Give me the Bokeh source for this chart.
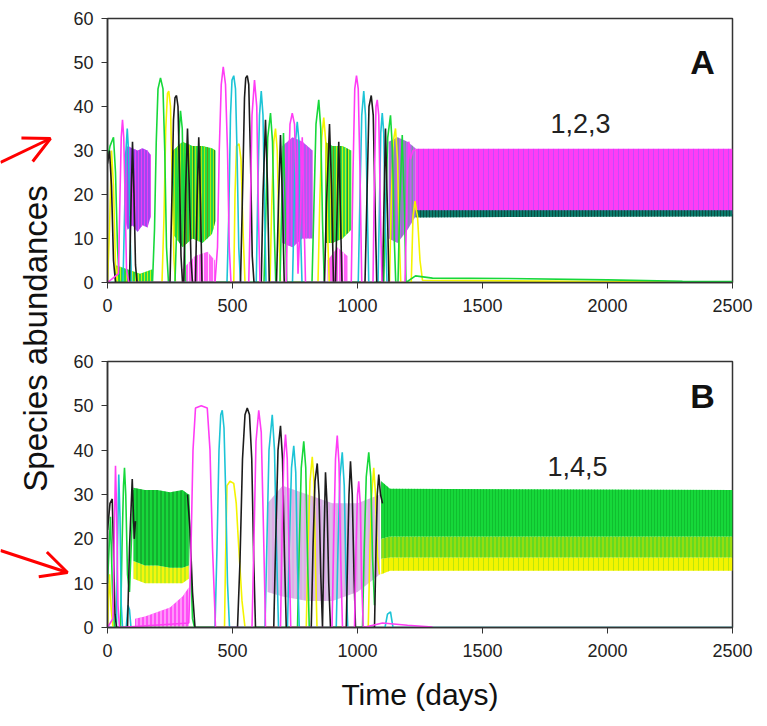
from math import nan
from bokeh.plotting import figure
from bokeh.layouts import row, column
from bokeh.models import Range1d, Arrow, OpenHead, Label, FixedTicker
from bokeh.embed import file_html
from bokeh.resources import INLINE

# ---------------- data ----------------
x_ticks = [0, 500, 1000, 1500, 2000, 2500]
y_ticks = [0, 10, 20, 30, 40, 50, 60]
panel_labels = ["A", "B"]
community_labels = ["1,2,3", "1,4,5"]

# Panel A: individual species traces (time in days, abundance)
A_mag_t = [0, 44, 50, 55, 60, 65, 70, 76, 85, 430, 440, 447, 455, 463, 472, 480, 487, 494, 565, 571, 578, 588, 597, 604, 610, 715, 722, 730, 739, 748, 756, 762, 772, 779, 786, 792, 975, 982, 989, 996, 1003, 1010, 1017, 1062, 1068, 1074, 1079, 1085, 1092, 1098, 1190, 1198, 1205, 1212, 1222, 1232]
A_mag_v = [0, 2, 20, 33, 37, 33, 20, 3, 0, 0, 8, 30, 45, 49, 45, 30, 8, 0, 0, 15, 38, 46, 40, 15, 0, 0, 20, 36, 38.5, 36, 20, 2, 15, 33, 15, 0, 0, 25, 44, 47, 44, 25, 0, 0, 25, 40, 41.5, 38, 15, 0, 0, 20, 32, 28, 30, 30]
A_cyan_t = [0, 62, 68, 74, 79, 84, 90, 96, 478, 485, 492, 498, 505, 512, 518, 525, 532, 595, 601, 608, 615, 622, 628, 634, 740, 746, 752, 759, 766, 772, 778, 1003, 1010, 1017, 1025, 1032, 1039, 1045, 1082, 1088, 1093, 1099, 1105, 1112, 1118]
A_cyan_v = [0, 0, 15, 30, 35, 30, 12, 0, 0, 15, 38, 46, 47, 44, 30, 8, 0, 0, 20, 38, 43.5, 38, 18, 0, 0, 15, 32, 36.5, 32, 12, 0, 0, 20, 38, 43.5, 38, 18, 0, 0, 18, 34, 38.5, 34, 12, 0]
A_black_t = [0, 8, 16, 24, 32, 88, 94, 100, 106, 112, 118, 250, 257, 264, 270, 276, 282, 288, 294, 300, 305, 312, 320, 327, 334, 340, 352, 358, 365, 372, 378, 532, 540, 548, 553, 559, 565, 572, 579, 586, 615, 622, 632, 640, 647, 676, 684, 692, 700, 707, 868, 876, 888, 896, 904, 912, 918, 925, 932, 938, 1030, 1038, 1046, 1055, 1063, 1070, 1077, 1100, 1106, 1112, 1119, 1126]
A_black_v = [27, 30, 22, 5, 0, 0, 18, 32, 20, 4, 0, 0, 18, 37, 42, 42.5, 40, 25, 6, 0, 0, 20, 35, 22, 5, 0, 0, 18, 33, 18, 0, 0, 20, 42, 46.5, 47, 45, 28, 6, 0, 0, 20, 37, 22, 0, 0, 18, 33.5, 18, 0, 0, 18, 36, 22, 0, 0, 15, 32, 15, 0, 0, 20, 40, 42.5, 38, 18, 0, 0, 18, 35, 18, 0]
A_green_t = [0, 10, 24, 32, 40, 48, 180, 188, 195, 202, 212, 222, 229, 236, 244, 270, 278, 285, 292, 299, 306, 312, 626, 633, 641, 652, 660, 667, 673, 690, 697, 704, 711, 717, 818, 826, 834, 845, 853, 860, 867, 1105, 1113, 1121, 1132, 1140, 1147, 1153, 1162, 1169, 1179, 1187, 1194, 1232, 1300, 1600, 2000, 2300, 2500]
A_green_v = [28, 31, 33, 25, 8, 0, 0, 12, 32, 44, 46.5, 44, 30, 8, 0, 0, 15, 33, 39, 35, 15, 0, 0, 15, 33, 38.5, 32, 12, 0, 0, 18, 34, 16, 0, 0, 18, 36, 41.5, 35, 14, 0, 0, 18, 33, 38, 30, 10, 0, 0, 18, 33.5, 18, 0, 1.5, 1.0, 0.9, 0.6, 0.3, 0.2]
A_yellow_t = [0, 8, 16, 24, 32, 40, 218, 226, 233, 240, 245, 252, 259, 266, 272, 505, 510, 516, 526, 534, 542, 550, 650, 657, 665, 672, 679, 686, 692, 842, 849, 857, 865, 873, 880, 887, 1128, 1135, 1143, 1152, 1160, 1167, 1173, 1215, 1222, 1230, 1240, 1250, 1260, 2500]
A_yellow_v = [0, 12, 30, 22, 4, 0, 0, 15, 35, 43, 43.5, 40, 22, 5, 0, 0, 20, 31, 31.5, 28, 12, 0, 0, 18, 32, 35, 30, 12, 0, 0, 18, 33, 37.5, 32, 12, 0, 0, 18, 32, 35, 28, 10, 0, 0, 15, 18.5, 15, 5, 0.5, 0]

# Panel A: envelopes of the fast oscillation episodes
A_purple_t = [66, 80, 100, 120, 140, 160, 173]
A_purple_hi = [29, 31, 30.5, 30, 30.5, 30, 29]
A_purple_lo = [16, 12, 13, 11.5, 13, 12.5, 15]
A_low_t = [30, 80, 130, 180]
A_low_hi = [4, 3, 2, 3]
A_gband_t = [262, 300, 340, 380, 418, 432]
A_gband_hi = [30, 32, 31, 31, 30.5, 30]
A_gband_lo = [11, 8, 10, 9, 11, 14]
A_mix1_t = [700, 740, 780, 820]
A_mix1_hi = [31, 33, 32, 30]
A_mix1_lo = [9, 8, 10, 10]
A_mix2_t = [870, 900, 940, 975]
A_mix2_hi = [32, 31, 31, 30]
A_mix2_lo = [9, 9, 10, 12]
A_mix3_t = [1125, 1160, 1200, 1232]
A_mix3_hi = [32, 33, 32, 30.5]
A_mix3_lo = [10, 9, 12, 15]
A_magsmall1_t = [300, 350, 400, 430]
A_magsmall1_hi = [3, 6, 7, 5]
A_magsmall2_t = [880, 920, 960]
A_magsmall2_hi = [5, 8, 6]
A_ss_t = [1232, 2500]
A_ss_hi = [30.4, 30.4]
A_ss_lo = [15.5, 15.5]
A_teal_hi = [16.4, 16.4]
A_teal_lo = [14.8, 15.0]

# Panel B: individual species traces
B_mag_t = [0, 22, 27, 32, 37, 42, 48, 325, 333, 342, 352, 375, 399, 410, 420, 432, 578, 586, 594, 605, 615, 624, 632, 692, 698, 705, 712, 719, 726, 733, 898, 905, 912, 919, 926, 933, 940, 988, 994, 1000, 1005, 1011, 1017, 1023, 1100, 1200, 1300]
B_mag_v = [0, 2, 20, 36.5, 25, 5, 0, 1, 15, 40, 49.5, 50, 49.5, 40, 18, 0, 0, 20, 42, 49, 44, 22, 0, 0, 20, 38, 43.5, 38, 18, 0, 0, 20, 38, 43.3, 37, 15, 0, 0, 18, 30, 33, 28, 10, 0, 1.0, 0.5, 0.1]
B_cyan_t = [0, 36, 40, 45, 50, 55, 60, 75, 82, 88, 94, 430, 438, 446, 453, 459, 466, 473, 480, 488, 630, 638, 646, 659, 668, 676, 684, 720, 727, 736, 745, 753, 760, 767, 915, 922, 930, 939, 947, 954, 961, 1110, 1120, 1132, 1142, 2500]
B_cyan_v = [0, 0, 18, 34.5, 25, 5, 0, 0, 5, 4, 0, 0, 18, 40, 48, 49, 45, 30, 10, 0, 0, 20, 40, 48, 40, 18, 0, 0, 18, 36, 41, 35, 14, 0, 0, 18, 34, 39.5, 32, 12, 0, 0, 3, 3.5, 0, 0]
B_black_t = [0, 10, 19, 25, 30, 36, 80, 88, 99, 107, 112, nan, 320, 330, 340, 350, 520, 530, 540, 550, 559, 568, 577, 585, 592, 665, 673, 682, 692, 700, 708, 715, 815, 822, 830, 839, 846, 853, 860, 866, 872, 878, 885, 892, 955, 961, 966, 972, 979, 986, 992, 1068, 1074, 1079, 1085, 1092, 1100]
B_black_v = [22, 28, 29, 15, 3, 0, 0, 18, 33.5, 20, 24, nan, 30, 22, 8, 0, 0, 15, 38, 48, 49.5, 48, 38, 15, 0, 0, 20, 40, 45.5, 38, 16, 0, 0, 18, 33, 37, 30, 12, 0, 20, 35, 28, 10, 0, 0, 18, 30, 37.5, 30, 12, 0, 0, 18, 30, 34.5, 30, 28]
B_green_t = [0, 12, 20, 28, 52, 58, 64, 68, 73, 80, 88, 96, 104, nan, 325, 332, 340, 348, 760, 767, 775, 785, 793, 800, 807, 1020, 1027, 1035, 1045, 1053, 1060, 1068]
B_green_v = [10, 25, 8, 0, 0, 18, 32, 36, 30, 12, 8, 20, 31, nan, 30, 15, 2, 0, 0, 18, 36, 42, 36, 16, 0, 0, 18, 34, 39.5, 34, 16, 5]
B_yellow_t = [0, 8, 15, 22, 468, 472, 478, 490, 505, 515, 525, 538, 550, 795, 802, 810, 819, 826, 832, 838, 1043, 1050, 1057, 1065, 1072, 1080, 1088]
B_yellow_v = [0, 12, 4, 0, 0, 15, 32, 33, 32.5, 28, 18, 6, 0, 0, 18, 33, 38.5, 33, 14, 0, 0, 18, 30, 36, 30, 16, 12]

# Panel B: envelopes
B_gband_t = [104, 150, 200, 250, 300, 325]
B_gband_hi = [31.5, 31, 31, 30.5, 31, 30]
B_gband_lo = [15, 14, 14, 13.5, 13.5, 14]
B_yband_lo = [11, 10, 10, 10, 10, 11]
B_magsmall_t = [110, 150, 200, 250, 300, 325]
B_magsmall_hi = [2, 2.5, 3.5, 4.5, 7, 9]
B_mix_t = [640, 700, 800, 900, 1000, 1090]
B_mix_hi = [28, 32, 30, 28, 28, 30]
B_mix_lo = [8, 7, 6, 6, 8, 12]
B_ss_t = [1095, 1130, 2500]
B_ss_hi = [33, 31.3, 31]
B_ss_mid = [20, 20.5, 20.5]
B_ss_lime = [15.5, 15.8, 15.8]
B_ss_lo = [12, 12.8, 12.8]

for a, b in [(A_mag_t, A_mag_v), (A_cyan_t, A_cyan_v), (A_black_t, A_black_v), (A_green_t, A_green_v),
             (A_yellow_t, A_yellow_v), (B_mag_t, B_mag_v), (B_cyan_t, B_cyan_v), (B_black_t, B_black_v),
             (B_green_t, B_green_v), (B_yellow_t, B_yellow_v)]:
    assert len(a) == len(b), (len(a), len(b))

# ---------------- styling ----------------
MAG = "#ff3cf5"
CYAN = "#1cc4d6"
BLACK = "#1c1c1c"
GREEN = "#16d83a"
YELLOW = "#f4f400"
PURPLE = "#9a3cf0"
LIME = "#96dc10"
TEAL = "#0b7b6c"
FONT = "Liberation Sans"


def make_panel(height, b_top, b_bottom):
    p = figure(width=697, height=height, x_range=Range1d(0, 2500), y_range=Range1d(0, 60),
               output_backend="svg", toolbar_location=None,
               min_border_left=37, min_border_right=35, min_border_top=b_top, min_border_bottom=b_bottom)
    p.grid.visible = False
    p.xaxis.ticker = FixedTicker(ticks=x_ticks)
    p.yaxis.ticker = FixedTicker(ticks=y_ticks)
    for ax in p.axis:
        ax.major_label_text_font = FONT
        ax.major_label_text_font_size = "18px"
        ax.major_label_text_color = "#222222"
        ax.axis_line_color = "#333333"
        ax.axis_line_width = 1.5
        ax.major_tick_line_color = "#333333"
        ax.major_tick_in = 0
        ax.major_tick_out = 6
        ax.minor_tick_in = 0
        ax.minor_tick_out = 0
    p.xaxis.major_label_standoff = 10
    p.yaxis.major_label_standoff = 8
    p.outline_line_color = "#333333"
    p.outline_line_width = 1.5
    p.outline_line_alpha = 1.0
    return p


def band(p, t, lo, hi, fill, hatch, alpha=0.95, scale=3.0, halpha=0.8):
    p.varea(x=t, y1=lo, y2=hi, fill_color=fill, fill_alpha=alpha,
            hatch_pattern="|", hatch_color=hatch, hatch_scale=scale, hatch_weight=1.0, hatch_alpha=halpha)


# ---------------- panel A ----------------
pA = make_panel(335, 18, 53)
band(pA, A_low_t, [0] * len(A_low_t), A_low_hi, GREEN, YELLOW)
band(pA, A_purple_t, A_purple_lo, A_purple_hi, PURPLE, MAG, scale=3.0)
band(pA, A_gband_t, A_gband_lo, A_gband_hi, GREEN, "#d4e800", scale=3.0)
band(pA, A_gband_t, A_gband_lo, A_gband_hi, GREEN, "#1a3a10", alpha=0.0, scale=7.0, halpha=0.45)
band(pA, A_magsmall1_t, [0] * len(A_magsmall1_t), A_magsmall1_hi, MAG, "#ffffff", alpha=0.8, scale=5)
band(pA, A_mix1_t, A_mix1_lo, A_mix1_hi, "#a848f0", MAG, alpha=0.9, scale=3.0)
band(pA, A_mix2_t, A_mix2_lo, A_mix2_hi, GREEN, YELLOW, alpha=0.9, scale=3.0)
band(pA, A_mix2_t, A_mix2_lo, A_mix2_hi, GREEN, "#1a3a10", alpha=0.0, scale=7.0, halpha=0.45)
band(pA, A_magsmall2_t, [0] * len(A_magsmall2_t), A_magsmall2_hi, MAG, "#ffffff", alpha=0.8, scale=5)
band(pA, A_mix3_t, A_mix3_lo, A_mix3_hi, "#b850ee", GREEN, alpha=0.9, scale=3.5, halpha=0.6)
band(pA, A_ss_t, A_ss_lo, A_ss_hi, MAG, "#a050ff", alpha=1.0, scale=5.0, halpha=0.6)
band(pA, A_ss_t, A_teal_lo, A_teal_hi, TEAL, "#0a3a30", alpha=1.0, scale=3.0, halpha=0.7)

lw = 1.6
pA.line(A_yellow_t, A_yellow_v, line_color=YELLOW, line_width=lw)
pA.line(A_green_t, A_green_v, line_color=GREEN, line_width=lw)
pA.line(A_cyan_t, A_cyan_v, line_color=CYAN, line_width=lw)
pA.line(A_black_t, A_black_v, line_color=BLACK, line_width=lw)
pA.line(A_mag_t, A_mag_v, line_color=MAG, line_width=lw)

pA.add_layout(Label(x=2380, y=50.2, text=panel_labels[0], text_align="center", text_baseline="middle",
                    text_font=FONT, text_font_size="34px", text_font_style="bold", text_color="#111111"))
pA.add_layout(Label(x=1892, y=36.1, text=community_labels[0], text_align="center", text_baseline="middle",
                    text_font=FONT, text_font_size="27px", text_color="#222222"))

# ---------------- panel B ----------------
pB = make_panel(391, 26, 99)
band(pB, B_gband_t, B_yband_lo, B_gband_lo, YELLOW, GREEN, alpha=0.95, scale=4.0, halpha=0.5)
band(pB, B_gband_t, B_gband_lo, B_gband_hi, GREEN, "#0b4f18", alpha=1.0, scale=4.0, halpha=0.6)
band(pB, B_magsmall_t, [0] * len(B_magsmall_t), B_magsmall_hi, MAG, "#ffffff", alpha=0.9, scale=4.0)
band(pB, B_mix_t, B_mix_lo, B_mix_hi, "#7a3ca8", MAG, alpha=0.3, scale=4.0, halpha=0.35)
band(pB, B_ss_t, B_ss_lo, B_ss_lime, YELLOW, LIME, alpha=1.0, scale=5.0, halpha=0.6)
band(pB, B_ss_t, B_ss_lime, B_ss_mid, LIME, GREEN, alpha=1.0, scale=4.0, halpha=0.8)
band(pB, B_ss_t, B_ss_mid, B_ss_hi, GREEN, "#0fb82c", alpha=1.0, scale=3.0, halpha=0.8)

pB.line(B_yellow_t, B_yellow_v, line_color=YELLOW, line_width=lw)
pB.line(B_green_t, B_green_v, line_color=GREEN, line_width=lw)
pB.line(B_cyan_t, B_cyan_v, line_color=CYAN, line_width=lw)
pB.line(B_black_t, B_black_v, line_color=BLACK, line_width=lw)
pB.line(B_mag_t, B_mag_v, line_color=MAG, line_width=lw)

pB.add_layout(Label(x=2380, y=52.3, text=panel_labels[1], text_align="center", text_baseline="middle",
                    text_font=FONT, text_font_size="34px", text_font_style="bold", text_color="#111111"))
pB.add_layout(Label(x=1880, y=36.3, text=community_labels[1], text_align="center", text_baseline="middle",
                    text_font=FONT, text_font_size="27px", text_color="#222222"))

pB.xaxis.axis_label = "Time (days)"
pB.xaxis.axis_label_text_font = FONT
pB.xaxis.axis_label_text_font_size = "30px"
pB.xaxis.axis_label_text_font_style = "normal"
pB.xaxis.axis_label_text_color = "#111111"
pB.xaxis.axis_label_standoff = 18

# ---------------- left strip: shared y label and red arrows ----------------
strip = figure(width=70, height=726, x_range=Range1d(0, 70), y_range=Range1d(0, 726),
               output_backend="svg", toolbar_location=None, min_border=0,
               x_axis_location=None, y_axis_location=None)
strip.grid.visible = False
strip.outline_line_color = None
strip.add_layout(Label(x=35, y=726 - 338, text="Species abundances", angle=90, angle_units="deg",
                       text_align="center", text_baseline="middle", text_font=FONT,
                       text_font_size="33px", text_color="#111111"))
RED = "#ff0000"
strip.add_layout(Arrow(end=OpenHead(size=26, line_color=RED, line_width=3),
                       x_start=0, y_start=726 - 162, x_end=50, y_end=726 - 138,
                       line_color=RED, line_width=3))
strip.add_layout(Arrow(end=OpenHead(size=26, line_color=RED, line_width=3),
                       x_start=0, y_start=726 - 550, x_end=67, y_end=726 - 572,
                       line_color=RED, line_width=3))

layout = row(strip, column(pA, pB))
open("out.html", "w").write(file_html(layout, INLINE))
